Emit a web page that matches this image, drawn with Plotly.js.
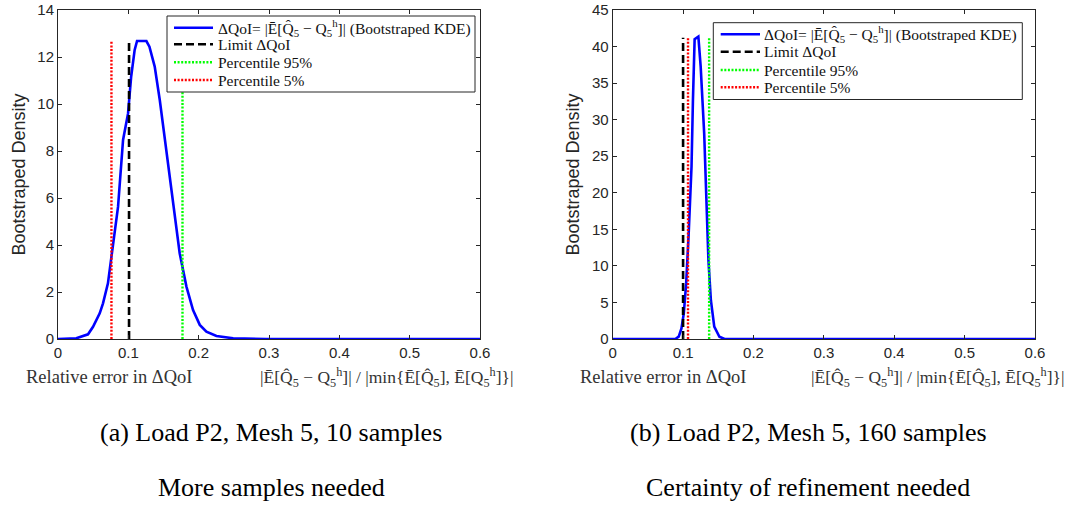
<!DOCTYPE html>
<html>
<head>
<meta charset="utf-8">
<script src="https://cdn.plot.ly/plotly-3.0.1.min.js"></script>
<style>html,body{margin:0;padding:0;background:#fff;}</style>
</head>
<body>
<div id="chart" style="width:1071px;height:505px;"></div>
<script>
// Panel (a): Load P2, Mesh 5, 10 samples
const kdeX_a = [0, 0.026, 0.0427, 0.0498, 0.0593, 0.064, 0.071, 0.078, 0.0854, 0.0925, 0.0996, 0.104, 0.109, 0.1124, 0.1257, 0.130, 0.1375, 0.1447, 0.154, 0.1636, 0.173, 0.1826, 0.192, 0.2016, 0.211, 0.2253, 0.249, 0.296, 0.6];
const kdeY_a = [0, 0.03, 0.2, 0.52, 1.09, 1.52, 2.37, 3.93, 5.63, 8.47, 9.6, 11.16, 12.3, 12.68, 12.68, 12.44, 11.59, 10.17, 8.04, 5.91, 3.65, 2.23, 1.23, 0.6, 0.31, 0.13, 0.03, 0, 0];
const limit_a = 0.101, p95_a = 0.177, p5_a = 0.076, lineTop_a = 12.65;

// Panel (b): Load P2, Mesh 5, 160 samples
const kdeX_b = [0, 0.089, 0.0938, 0.0977, 0.101, 0.1044, 0.108, 0.112, 0.114, 0.1164, 0.1217, 0.125, 0.130, 0.1333, 0.136, 0.1395, 0.1443, 0.1516, 0.159, 0.6];
const kdeY_b = [0, 0, 0.32, 1.46, 3.5, 7.6, 14.5, 23.6, 32.7, 41.0, 41.35, 37.25, 28.1, 19.0, 10.8, 5.3, 1.7, 0.3, 0, 0];
const limit_b = 0.100, p95_b = 0.137, p5_b = 0.107, lineTop_b = 41.2;

const seriesNames = [
  'ΔQoI= |Ē[Q̂<sub>5</sub> − Q<sub>5</sub><sup>h</sup>]| (Bootstraped KDE)',
  'Limit ΔQoI',
  'Percentile 95%',
  'Percentile 5%'
];
const xTitleLeft = 'Relative error in ΔQoI';
const xTitleRight = '|Ē[Q̂<sub>5</sub> − Q<sub>5</sub><sup>h</sup>]| / |min{Ē[Q̂<sub>5</sub>], Ē[Q<sub>5</sub><sup>h</sup>]}|';
const yTitle = 'Bootstraped Density';
const captions = [
  ['(a) Load P2, Mesh 5, 10 samples', 'More samples needed'],
  ['(b) Load P2, Mesh 5, 160 samples', 'Certainty of refinement needed']
];

const styles = [
  {color: '#0000ff', width: 2.6, dash: 'solid'},
  {color: '#000000', width: 2.6, dash: '8px,4px'},
  {color: '#00ff00', width: 2.4, dash: '2px,1.6px'},
  {color: '#ff0000', width: 2.4, dash: '2px,1.6px'}
];

function panelTraces(kx, ky, lim, p95, p5, top, xa, ya) {
  const xs = [kx, [lim, lim], [p95, p95], [p5, p5]];
  const ys = [ky, [0, top], [0, top], [0, top]];
  return xs.map((x, i) => ({x: x, y: ys[i], type: 'scatter', mode: 'lines', name: seriesNames[i],
    xaxis: xa, yaxis: ya, showlegend: false, line: styles[i]}));
}

const data = [
  ...panelTraces(kdeX_a, kdeY_a, limit_a, p95_a, p5_a, lineTop_a, 'x', 'y'),
  ...panelTraces(kdeX_b, kdeY_b, limit_b, p95_b, p5_b, lineTop_b, 'x2', 'y2')
];

const W = 1071, H = 505;
const px = v => v / W, py = v => (H - v) / H;

const axCol = '#262626';
const tickFont = {family: 'Liberation Sans, Arial, sans-serif', size: 15, color: axCol};
function xaxisDef(domain, anchor) {
  return {domain: domain, anchor: anchor, range: [0, 0.6], dtick: 0.1, tick0: 0,
    showgrid: false, zeroline: false, showline: true, linecolor: axCol, linewidth: 1, mirror: 'ticks',
    ticks: 'inside', ticklen: 4, tickcolor: axCol, tickfont: tickFont, fixedrange: true};
}
function yaxisDef(domain, anchor, maxv, dt) {
  return {domain: domain, anchor: anchor, range: [0, maxv], dtick: dt, tick0: 0,
    showgrid: false, zeroline: false, showline: true, linecolor: axCol, linewidth: 1, mirror: 'ticks',
    ticks: 'inside', ticklen: 4, tickcolor: axCol, tickfont: tickFont, fixedrange: true,
    title: {text: yTitle, font: {family: 'Liberation Sans, Arial, sans-serif', size: 18, color: axCol}, standoff: 7}};
}

const serif = 'Liberation Serif, DejaVu Serif, serif';
const annotations = [];
const shapes = [];

// x-axis label texts below each panel
[[xTitleLeft, 24, 'left', 18.5], [xTitleRight, 515, 'right', 17.5], [xTitleLeft, 578, 'left', 18.5], [xTitleRight, 1066, 'right', 17.5]]
  .forEach(a => annotations.push({text: a[0], x: px(a[1]), y: py(377), xref: 'paper', yref: 'paper',
    xanchor: a[2], yanchor: 'middle', showarrow: false, font: {family: serif, size: a[3], color: '#333'}}));

// captions
[[captions[0][0], 271, 432], [captions[0][1], 271, 487], [captions[1][0], 808, 432], [captions[1][1], 808, 487]]
  .forEach(c => annotations.push({text: c[0], x: px(c[1]), y: py(c[2]), xref: 'paper', yref: 'paper',
    xanchor: 'center', yanchor: 'middle', showarrow: false, font: {family: serif, size: 26, color: '#000'}}));

// legend boxes (MATLAB style)
function addLegend(box, sx0, sx1, tx, rows) {
  shapes.push({type: 'rect', xref: 'paper', yref: 'paper', x0: px(box[0]), x1: px(box[1]), y0: py(box[3]), y1: py(box[2]),
    line: {color: axCol, width: 1}, fillcolor: '#ffffff', layer: 'above'});
  rows.forEach((ry, i) => {
    shapes.push({type: 'line', xref: 'paper', yref: 'paper', x0: px(sx0), x1: px(sx1), y0: py(ry), y1: py(ry),
      line: {color: styles[i].color, width: styles[i].width, dash: styles[i].dash}, layer: 'above'});
    annotations.push({text: seriesNames[i], x: px(tx), y: py(ry), xref: 'paper', yref: 'paper',
      xanchor: 'left', yanchor: 'middle', showarrow: false, font: {family: serif, size: 15.5, color: '#111'}});
  });
}
addLegend([167, 475, 16, 92], 174, 213, 216, [27.7, 44.3, 62.3, 80]);
addLegend([713.3, 1022.3, 22.7, 99.5], 720.7, 760, 762, [34.3, 51.7, 70, 87.3]);

const layout = {
  width: W, height: H,
  margin: {l: 0, r: 0, t: 0, b: 0},
  paper_bgcolor: '#fff', plot_bgcolor: '#fff',
  showlegend: false,
  xaxis: xaxisDef([px(58), px(480)], 'y'),
  yaxis: yaxisDef([py(339), py(10)], 'x', 14, 2),
  xaxis2: xaxisDef([px(612.7), px(1035)], 'y2'),
  yaxis2: yaxisDef([py(339), py(10)], 'x2', 45, 5),
  shapes: shapes,
  annotations: annotations
};

Plotly.newPlot('chart', data, layout, {displayModeBar: false, staticPlot: true});
</script>
</body>
</html>
